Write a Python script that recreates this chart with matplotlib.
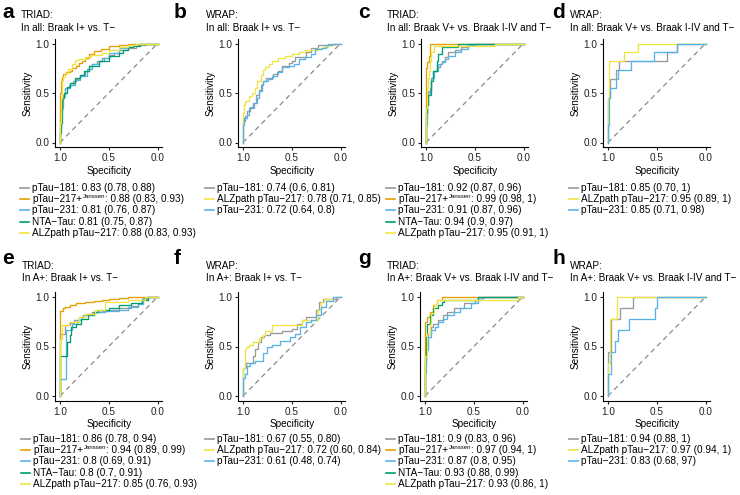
import matplotlib
matplotlib.use("Agg")
import matplotlib.pyplot as plt
from matplotlib.lines import Line2D

plt.rcParams['font.family'] = ['Liberation Sans', 'DejaVu Sans']

W, H = 740, 495
fig = plt.figure(figsize=(7.4, 4.95), dpi=100)
renderer = fig.canvas.get_renderer()

COL = {"181": "#999999", "217J": "#E69F00", "231": "#56B4E9", "NTA": "#009E73", "ALZ": "#F0E442"}

# ---------------- data: (specificity, sensitivity) points ----------------
A_181 = [(1,0),(0.99,0.15),(0.97,0.35),(0.95,0.48),(0.91,0.55),(0.87,0.58),(0.84,0.62),(0.8,0.64),(0.74,0.68),(0.7,0.72),(0.67,0.77),(0.62,0.79),(0.57,0.82),(0.5,0.85),(0.45,0.88),(0.4,0.9),(0.3,0.93),(0.22,0.95),(0.12,0.98),(0.05,0.99),(0,1)]
A_217J = [(1,0),(1,0.25),(0.99,0.5),(0.98,0.62),(0.97,0.66),(0.94,0.69),(0.9,0.71),(0.88,0.72),(0.84,0.75),(0.81,0.77),(0.77,0.8),(0.74,0.82),(0.7,0.85),(0.65,0.89),(0.58,0.92),(0.5,0.94),(0.4,0.97),(0.3,0.98),(0.2,0.99),(0.09,0.99),(0,1)]
A_231 = [(1,0),(0.99,0.15),(0.98,0.3),(0.95,0.47),(0.9,0.55),(0.85,0.58),(0.8,0.63),(0.72,0.67),(0.67,0.74),(0.6,0.79),(0.55,0.82),(0.5,0.85),(0.4,0.9),(0.3,0.95),(0.2,0.98),(0.1,0.99),(0,1)]
A_NTA = [(1,0),(0.99,0.1),(0.98,0.2),(0.96,0.45),(0.93,0.5),(0.9,0.56),(0.85,0.6),(0.8,0.65),(0.75,0.68),(0.7,0.72),(0.6,0.77),(0.5,0.82),(0.4,0.87),(0.35,0.9),(0.3,0.93),(0.25,0.96),(0.18,0.97),(0.1,0.99),(0,1)]
A_ALZ = [(1,0),(0.99,0.2),(0.98,0.45),(0.97,0.62),(0.95,0.66),(0.92,0.7),(0.88,0.74),(0.85,0.79),(0.81,0.83),(0.74,0.84),(0.68,0.86),(0.57,0.88),(0.5,0.9),(0.4,0.93),(0.3,0.96),(0.22,0.98),(0.1,0.99),(0,1)]

B_181 = [(1,0),(1,0.15),(0.98,0.22),(0.96,0.27),(0.93,0.32),(0.9,0.36),(0.87,0.4),(0.84,0.48),(0.82,0.53),(0.79,0.58),(0.76,0.62),(0.69,0.65),(0.64,0.69),(0.6,0.72),(0.53,0.77),(0.5,0.8),(0.47,0.82),(0.4,0.86),(0.35,0.86),(0.3,0.91),(0.23,0.95),(0.13,0.98),(0.05,0.99),(0,1)]
B_ALZ = [(1,0),(1,0.1),(0.99,0.3),(0.98,0.38),(0.94,0.42),(0.91,0.47),(0.88,0.5),(0.86,0.55),(0.82,0.62),(0.8,0.68),(0.77,0.73),(0.73,0.76),(0.7,0.79),(0.64,0.82),(0.57,0.85),(0.5,0.87),(0.43,0.89),(0.36,0.91),(0.23,0.93),(0.18,0.95),(0.13,0.96),(0.06,0.98),(0,1)]
B_231 = [(1,0),(1,0.05),(0.99,0.18),(0.96,0.25),(0.94,0.28),(0.89,0.35),(0.86,0.4),(0.84,0.45),(0.81,0.52),(0.79,0.59),(0.74,0.62),(0.7,0.64),(0.65,0.67),(0.6,0.71),(0.53,0.76),(0.48,0.77),(0.43,0.79),(0.36,0.84),(0.3,0.86),(0.26,0.89),(0.19,0.94),(0.15,0.95),(0.09,0.98),(0,1)]

C_181 = [(1,0),(1,0.1),(0.99,0.25),(0.98,0.38),(0.96,0.5),(0.945,0.55),(0.93,0.65),(0.89,0.72),(0.86,0.76),(0.84,0.79),(0.8,0.82),(0.77,0.86),(0.7,0.91),(0.64,0.93),(0.57,0.96),(0.5,0.99),(0.29,1.0),(0,1)]
C_217J = [(1,0),(1,0.3),(0.995,0.64),(0.99,0.75),(0.97,0.81),(0.955,0.87),(0.95,1.0),(0,1)]
C_231 = [(1,0),(0.99,0.18),(0.98,0.38),(0.95,0.52),(0.92,0.65),(0.88,0.72),(0.84,0.79),(0.8,0.81),(0.77,0.84),(0.7,0.87),(0.64,0.91),(0.57,0.94),(0.5,0.98),(0.29,1.0),(0,1)]
C_NTA = [(1,0),(1,0.2),(0.99,0.3),(0.98,0.38),(0.95,0.48),(0.93,0.62),(0.89,0.72),(0.88,0.82),(0.84,0.89),(0.82,0.96),(0.67,0.96),(0.67,1.0),(0,1)]
C_ALZ = [(1,0),(1,0.25),(0.99,0.35),(0.98,0.55),(0.97,0.65),(0.96,0.72),(0.945,0.82),(0.92,0.91),(0.9,0.97),(0.29,0.97),(0.29,1.0),(0,1)]

D_181 = [(1,0),(1,0.45),(0.98,0.45),(0.98,0.64),(0.92,0.64),(0.92,0.73),(0.89,0.73),(0.89,0.82),(0.40,0.82),(0.40,0.91),(0.29,0.91),(0.29,1.0),(0,1)]
D_ALZ = [(1,0),(1,0.45),(0.99,0.45),(0.99,0.82),(0.84,0.82),(0.84,0.91),(0.69,0.91),(0.69,1.0),(0,1)]
D_231 = [(1,0),(1,0.18),(0.99,0.18),(0.99,0.45),(0.98,0.45),(0.98,0.55),(0.92,0.55),(0.92,0.64),(0.9,0.64),(0.9,0.73),(0.76,0.73),(0.76,0.82),(0.53,0.82),(0.53,0.91),(0.29,0.91),(0.29,1.0),(0,1)]

E_181 = [(1,0),(1,0.63),(0.95,0.63),(0.95,0.72),(0.9,0.72),(0.86,0.74),(0.81,0.77),(0.76,0.8),(0.7,0.82),(0.67,0.83),(0.57,0.85),(0.5,0.86),(0.4,0.87),(0.27,0.89),(0.2,0.91),(0.16,0.94),(0.1,0.98),(0.05,1.0),(0,1)]
E_217J = [(1,0),(1,0.86),(0.97,0.86),(0.95,0.89),(0.9,0.9),(0.84,0.92),(0.74,0.94),(0.65,0.95),(0.57,0.96),(0.5,0.97),(0.4,0.98),(0.3,0.99),(0.1,1.0),(0,1)]
E_231 = [(1,0),(0.99,0.17),(0.94,0.17),(0.94,0.63),(0.88,0.67),(0.83,0.73),(0.78,0.77),(0.74,0.8),(0.64,0.83),(0.54,0.85),(0.4,0.86),(0.3,0.87),(0.2,0.9),(0.15,0.93),(0.11,0.99),(0.06,1.0),(0,1)]
E_NTA = [(1,0),(1,0.4),(0.93,0.4),(0.93,0.48),(0.9,0.55),(0.89,0.62),(0.84,0.7),(0.78,0.73),(0.71,0.78),(0.65,0.82),(0.61,0.85),(0.5,0.87),(0.4,0.89),(0.27,0.92),(0.16,0.94),(0.1,0.97),(0.05,1.0),(0,1)]
E_ALZ = [(1,0),(1,0.58),(0.98,0.58),(0.98,0.7),(0.91,0.72),(0.81,0.75),(0.74,0.8),(0.64,0.83),(0.54,0.87),(0.49,0.95),(0.3,0.95),(0.13,0.97),(0.06,1.0),(0,1)]

F_181 = [(1,0),(1,0.22),(0.97,0.28),(0.95,0.33),(0.9,0.33),(0.88,0.4),(0.85,0.47),(0.82,0.55),(0.78,0.6),(0.72,0.62),(0.6,0.64),(0.5,0.66),(0.45,0.68),(0.4,0.73),(0.35,0.77),(0.25,0.8),(0.22,0.87),(0.18,0.95),(0.05,0.98),(0,1)]
F_ALZ = [(1,0),(1,0.23),(0.98,0.28),(0.97,0.47),(0.94,0.5),(0.9,0.52),(0.84,0.55),(0.8,0.59),(0.77,0.62),(0.7,0.66),(0.67,0.72),(0.4,0.72),(0.4,0.77),(0.23,0.77),(0.2,0.87),(0.17,0.95),(0.08,0.98),(0,1)]
F_231 = [(1,0),(1,0.05),(0.98,0.18),(0.96,0.22),(0.93,0.3),(0.88,0.33),(0.8,0.35),(0.75,0.43),(0.7,0.5),(0.62,0.52),(0.52,0.56),(0.47,0.6),(0.42,0.63),(0.35,0.7),(0.3,0.75),(0.25,0.77),(0.2,0.82),(0.15,0.9),(0.08,0.96),(0.04,1.0),(0,1)]

G_181 = [(1,0),(0.99,0.33),(0.97,0.5),(0.94,0.63),(0.92,0.7),(0.87,0.73),(0.82,0.77),(0.77,0.82),(0.7,0.85),(0.6,0.89),(0.49,0.94),(0.46,0.97),(0.44,1.0),(0,1)]
G_217J = [(1,0),(1,0.72),(0.98,0.75),(0.95,0.8),(0.92,0.85),(0.88,0.92),(0.83,0.97),(0.75,1.0),(0,1)]
G_231 = [(1,0),(0.99,0.23),(0.97,0.46),(0.94,0.6),(0.9,0.67),(0.87,0.7),(0.82,0.75),(0.77,0.78),(0.7,0.82),(0.64,0.85),(0.53,0.89),(0.46,0.94),(0.43,0.97),(0.39,0.99),(0,1)]
G_NTA = [(1,0),(1,0.23),(0.99,0.4),(0.98,0.6),(0.95,0.73),(0.92,0.82),(0.87,0.89),(0.83,0.92),(0.8,0.95),(0.77,0.97),(0.46,0.97),(0.46,1.0),(0,1)]
G_ALZ = [(1,0),(1,0.23),(0.98,0.4),(0.95,0.63),(0.94,0.73),(0.91,0.84),(0.88,0.92),(0.85,0.97),(0.05,0.97),(0.05,1.0),(0,1)]

H_181 = [(1,0),(1,0.44),(0.97,0.44),(0.97,0.78),(0.88,0.78),(0.88,0.89),(0.74,0.89),(0.74,1.0),(0,1)]
H_ALZ = [(1,0),(1,0.33),(0.98,0.33),(0.98,0.78),(0.91,0.78),(0.91,1.0),(0,1)]
H_231 = [(1,0),(1,0.22),(0.97,0.22),(0.97,0.44),(0.93,0.44),(0.93,0.56),(0.90,0.56),(0.90,0.67),(0.78,0.67),(0.78,0.78),(0.52,0.78),(0.52,0.89),(0.50,0.89),(0.50,1.0),(0,1)]

# Labels: (main text, superscript, rest)
JANSSEN = ("pTau\u2212217+", "Janssen")
A_LABELS = ["pTau\u2212181: 0.83 (0.78, 0.88)", JANSSEN + (": 0.88 (0.83, 0.93)",), "pTau\u2212231: 0.81 (0.76, 0.87)", "NTA\u2212Tau: 0.81 (0.75, 0.87)", "ALZpath pTau\u2212217: 0.88 (0.83, 0.93)"]
B_LABELS = ["pTau\u2212181: 0.74 (0.6, 0.81)", "ALZpath pTau\u2212217: 0.78 (0.71, 0.85)", "pTau\u2212231: 0.72 (0.64, 0.8)"]
C_LABELS = ["pTau\u2212181: 0.92 (0.87, 0.96)", JANSSEN + (": 0.99 (0.98, 1)",), "pTau\u2212231: 0.91 (0.87, 0.96)", "NTA\u2212Tau: 0.94 (0.9, 0.97)", "ALZpath pTau\u2212217: 0.95 (0.91, 1)"]
D_LABELS = ["pTau\u2212181: 0.85 (0.70, 1)", "ALZpath pTau\u2212217: 0.95 (0.89, 1)", "pTau\u2212231: 0.85 (0.71, 0.98)"]
E_LABELS = ["pTau\u2212181: 0.86 (0.78, 0.94)", JANSSEN + (": 0.94 (0.89, 0.99)",), "pTau\u2212231: 0.8 (0.69, 0.91)", "NTA\u2212Tau: 0.8 (0.7, 0.91)", "ALZpath pTau\u2212217: 0.85 (0.76, 0.93)"]
F_LABELS = ["pTau\u2212181: 0.67 (0.55, 0.80)", "ALZpath pTau\u2212217: 0.72 (0.60, 0.84)", "pTau\u2212231: 0.61 (0.48, 0.74)"]
G_LABELS = ["pTau\u2212181: 0.9 (0.83, 0.96)", JANSSEN + (": 0.97 (0.94, 1)",), "pTau\u2212231: 0.87 (0.8, 0.95)", "NTA\u2212Tau: 0.93 (0.88, 0.99)", "ALZpath pTau\u2212217: 0.93 (0.86, 1)"]
H_LABELS = ["pTau\u2212181: 0.94 (0.88, 1)", "ALZpath pTau\u2212217: 0.97 (0.94, 1)", "pTau\u2212231: 0.83 (0.68, 97)"]

TITLES = {
    "a": "TRIAD:\nIn all: Braak I+ vs. T\u2212",
    "b": "WRAP:\nIn all: Braak I+ vs. T\u2212",
    "c": "TRIAD:\nIn all: Braak V+ vs. Braak I-IV and T\u2212",
    "d": "WRAP:\nIn all: Braak V+ vs. Braak I-IV and T\u2212",
    "e": "TRIAD:\nIn A+: Braak I+ vs. T\u2212",
    "f": "WRAP:\nIn A+: Braak I+ vs. T\u2212",
    "g": "TRIAD:\nIn A+: Braak V+ vs. Braak I-IV and T\u2212",
    "h": "WRAP:\nIn A+: Braak V+ vs. Braak I-IV and T\u2212",
}

FIVE = ["181", "217J", "231", "NTA", "ALZ"]
THREE = ["181", "ALZ", "231"]

PANELS = [
    # letter, curves, keys, labels, x(spec=1) px, y(sens=1) px, letter x, title x
    ("a", [A_181, A_217J, A_231, A_NTA, A_ALZ], FIVE, A_LABELS, 60, 43.5, 2, 21),
    ("b", [B_181, B_ALZ, B_231], THREE, B_LABELS, 243, 43.5, 174, 206),
    ("c", [C_181, C_217J, C_231, C_NTA, C_ALZ], FIVE, C_LABELS, 426, 43.5, 358, 387),
    ("d", [D_181, D_ALZ, D_231], THREE, D_LABELS, 608, 43.5, 552, 570),
    ("e", [E_181, E_217J, E_231, E_NTA, E_ALZ], FIVE, E_LABELS, 60, 297, 2, 22),
    ("f", [F_181, F_ALZ, F_231], THREE, F_LABELS, 243, 297, 174, 206),
    ("g", [G_181, G_217J, G_231, G_NTA, G_ALZ], FIVE, G_LABELS, 425, 297, 358, 387),
    ("h", [H_181, H_ALZ, H_231], THREE, H_LABELS, 608, 297, 552, 570),
]

SX, SY = 97.5, 99.0
FS = 7.2

def fxy(x, y):
    return x / W, 1 - y / H

def text_width_px(t):
    return t.get_window_extent(renderer=renderer).width

for letter, curves, keys, labels, x1, y1, lx, tx in PANELS:
    left = x1 - 0.05 * SX
    top = y1 - 0.05 * SY
    w, h = 1.1 * SX, 1.1 * SY
    ax = fig.add_axes([left / W, 1 - (top + h) / H, w / W, h / H])
    ax.set_xlim(1.05, -0.05)
    ax.set_ylim(-0.05, 1.05)
    ax.plot([1, 0], [0, 1], ls=(0, (4, 3)), color="#8a8a8a", lw=0.9)
    for pts, k in zip(curves, keys):
        xs = [p[0] for p in pts]
        ys = [p[1] for p in pts]
        ax.plot(xs, ys, drawstyle="steps-pre", color=COL[k], lw=0.95)
    for s in ["top", "right"]:
        ax.spines[s].set_visible(False)
    for s in ["left", "bottom"]:
        ax.spines[s].set_linewidth(0.8)
        ax.spines[s].set_color("black")
    ax.set_xticks([1.0, 0.5, 0.0])
    ax.set_yticks([0.0, 0.5, 1.0])
    ax.set_xticklabels(["1.0", "0.5", "0.0"])
    ax.set_yticklabels(["0.0", "0.5", "1.0"])
    ax.tick_params(length=2.5, width=0.8, pad=1.5, labelsize=FS, colors="#222222")
    ax.set_xlabel("Specificity", fontsize=FS, labelpad=2)
    ax.set_ylabel("Sensitivity", fontsize=FS, labelpad=2)
    ax.patch.set_alpha(0)

    top_row = y1 < 200
    fig.text(*fxy(lx, 12 if top_row else 259), letter, fontsize=15, fontweight="bold",
             va="center", ha="left")
    fig.text(*fxy(tx, 21.5 if top_row else 272), TITLES[letter], fontsize=FS,
             va="center", ha="left", linespacing=1.35)

    ly0 = 188 if top_row else 439
    kx = tx - 1
    for i, (k, lab) in enumerate(zip(keys, labels)):
        yy = ly0 + 11.2 * i
        x0, yf = fxy(kx, yy)
        x1f, _ = fxy(kx + 9, yy)
        fig.add_artist(Line2D([x0, x1f], [yf, yf], color=COL[k], lw=1.2, transform=fig.transFigure))
        if isinstance(lab, tuple):
            main, sup, rest = lab
            t1 = fig.text(*fxy(kx + 12, yy), main, fontsize=FS, va="center", ha="left")
            w1 = text_width_px(t1)
            t2 = fig.text(*fxy(kx + 12 + w1 + 0.3, yy - 2.6), sup, fontsize=4.3,
                          va="center", ha="left")
            w2 = text_width_px(t2)
            fig.text(*fxy(kx + 12 + w1 + w2 + 0.6, yy), rest, fontsize=FS,
                     va="center", ha="left")
        else:
            fig.text(*fxy(kx + 12, yy), lab, fontsize=FS, va="center", ha="left")

fig.savefig("out.png", dpi=100)
